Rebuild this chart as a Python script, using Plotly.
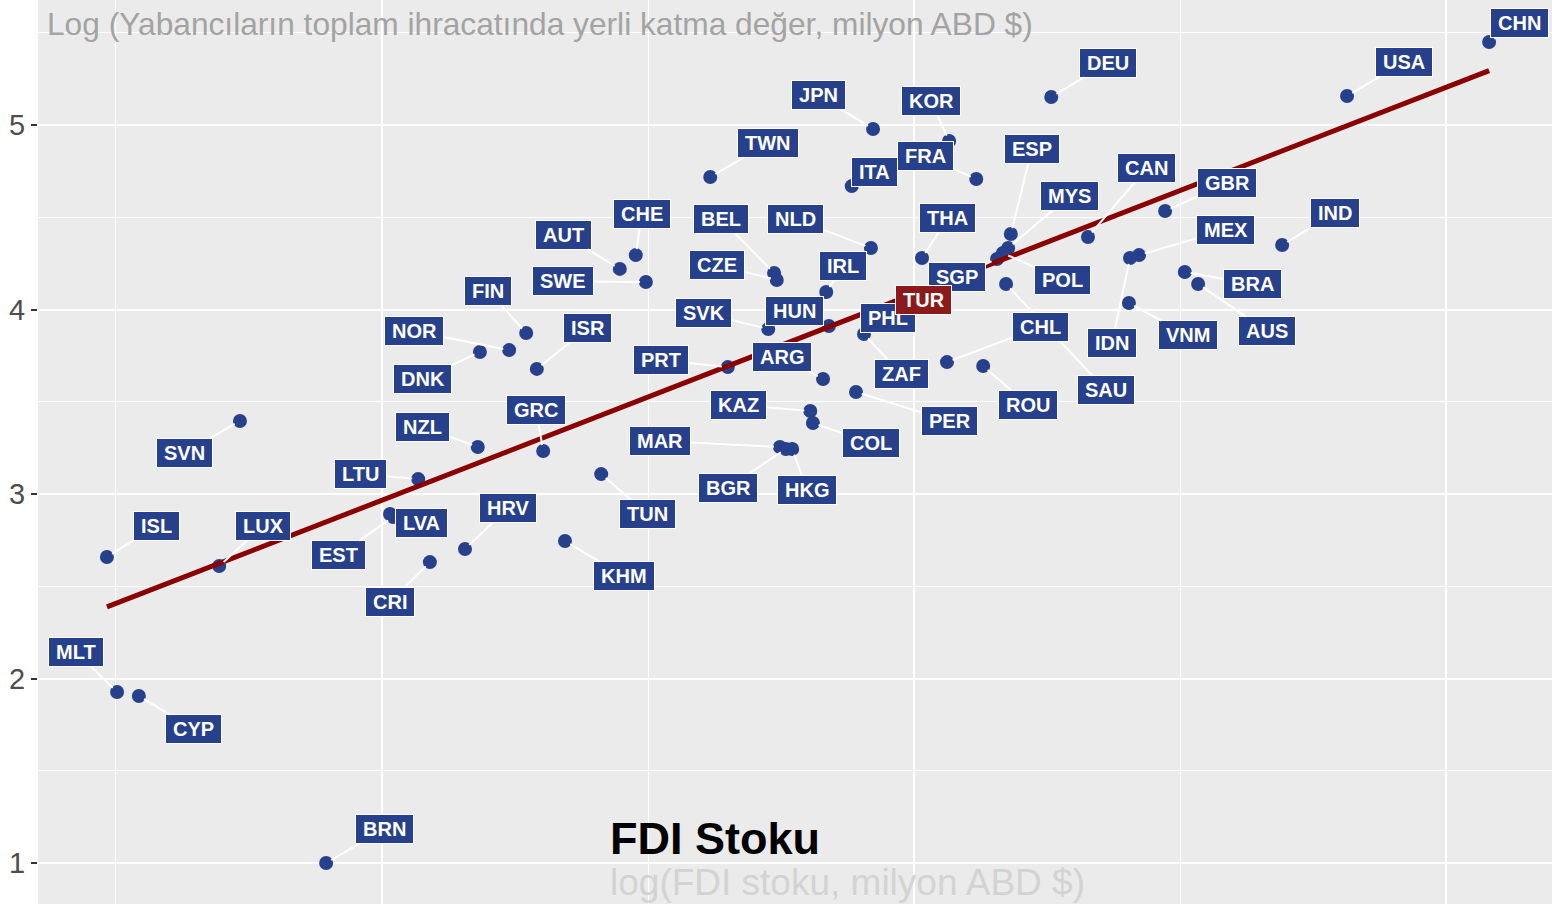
import numpy as np
import plotly.graph_objects as go

# log10 FDI stock (million USD) and log10 domestic value added in foreign exports
countries = ["CHN", "USA", "DEU", "JPN", "KOR", "TWN", "ITA", "FRA", "ESP", "CAN",
             "MYS", "POL", "SGP", "SAU", "CHL", "ROU", "GBR", "MEX", "IDN", "VNM",
             "BRA", "AUS", "IND", "THA", "PHL", "ZAF", "HUN", "SVK", "IRL",
             "NLD", "BEL", "CZE", "CHE", "AUT", "SWE", "FIN", "NOR", "DNK", "ISR",
             "PRT", "ARG", "PER", "KAZ", "COL", "MAR", "BGR", "HKG", "GRC", "TUN",
             "KHM", "HRV", "CRI", "LVA", "EST", "LTU", "NZL", "SVN", "ISL", "LUX",
             "MLT", "CYP", "BRN", "TUR"]
fdi_stock = [6.081, 5.814, 5.258, 4.923, 5.066, 4.617, 4.883, 5.117, 5.182, 5.327,
             5.177, 5.167, 5.156, 5.173, 5.062, 5.130, 5.472, 5.423, 5.406, 5.404,
             5.509, 5.534, 5.692, 5.015, 4.932, 4.906, 4.840, 4.726, 4.835,
             4.919, 4.737, 4.742, 4.477, 4.447, 4.496, 4.271, 4.239, 4.184, 4.291,
             4.650, 4.829, 4.891, 4.805, 4.810, 4.748, 4.759, 4.771, 4.303, 4.412,
             4.344, 4.156, 4.090, 4.015, 4.021, 4.068, 4.180, 3.733, 3.483, 3.694,
             3.502, 3.543, 3.895, 4.961]
dva_exports = [5.450, 5.157, 5.152, 4.978, 4.913, 4.718, 4.669, 4.707, 4.409, 4.393,
               4.333, 4.306, 4.274, 4.138, 3.715, 3.694, 4.534, 4.295, 4.279, 4.035,
               4.203, 4.138, 4.350, 4.279, 3.916, 3.867, 3.911, 3.894, 4.095,
               4.333, 4.198, 4.160, 4.295, 4.220, 4.149, 3.873, 3.780, 3.770, 3.678,
               3.688, 3.623, 3.553, 3.450, 3.385, 3.255, 3.244, 3.244, 3.233, 3.108,
               2.745, 2.702, 2.631, 2.892, 2.875, 3.081, 3.255, 3.396, 2.659, 2.610,
               1.927, 1.905, 1.000, 3.954]
highlight = "TUR"

# label offsets in pixels (repelled label positions)
label_offsets = {
    "CHN": (30, -19), "USA": (57, -34), "DEU": (57, -34), "JPN": (-55, -34),
    "KOR": (-18, -40), "TWN": (58, -34), "ITA": (23, -14), "FRA": (-51, -23),
    "ESP": (21, -85), "CAN": (59, -69), "MYS": (61, -52), "POL": (60, 27),
    "SGP": (-40, 18), "SAU": (100, 106), "CHL": (93, -35), "ROU": (45, 39),
    "GBR": (62, -28), "MEX": (86, -25), "IDN": (-18, 85), "VNM": (59, 32),
    "BRA": (68, 12), "AUS": (69, 47), "IND": (53, -32), "THA": (26, -40),
    "TUR": (30, -18), "PHL": (10, -7), "ZAF": (37, 40), "HUN": (-34, -15),
    "SVK": (-65, -16), "IRL": (17, -26), "NLD": (-75, -29), "BEL": (-53, -54),
    "CZE": (-60, -15), "CHE": (6, -41), "AUT": (-56, -34), "SWE": (-83, -1),
    "FIN": (-38, -42), "NOR": (-95, -19), "DNK": (-57, 27), "ISR": (51, -41),
    "PRT": (-67, -7), "ARG": (-41, -22), "PER": (93, 29), "KAZ": (-72, -6),
    "COL": (58, 20), "MAR": (-120, -6), "BGR": (-58, 39), "HKG": (15, 41),
    "GRC": (-7, -41), "TUN": (46, 40), "KHM": (59, 35), "HRV": (43, -41),
    "CRI": (-40, 40), "LVA": (32, 9), "EST": (-55, 38), "LTU": (-58, -5),
    "NZL": (-55, -20), "SVN": (-55, 32), "ISL": (50, -31), "LUX": (44, -40),
    "MLT": (-41, -40), "CYP": (55, 33), "BRN": (58, -34),
}

BLUE = "#27408B"
RED = "#8B1A1A"

x = np.array(fdi_stock)
y = np.array(dva_exports)
slope, intercept = np.polyfit(x, y, 1)
fit_x = np.array([x.min(), x.max()])
fit_y = intercept + slope * fit_x

fig = go.Figure()

fig.add_trace(
    go.Scatter(
        x=fdi_stock,
        y=dva_exports,
        mode="markers",
        marker=dict(color=BLUE, size=14),
        text=countries,
        hoverinfo="text+x+y",
        showlegend=False
    )
)

fig.add_trace(
    go.Scatter(
        x=fit_x,
        y=fit_y,
        mode="lines",
        line=dict(color="#8B0000", width=5),
        hoverinfo="skip",
        showlegend=False
    )
)

# highlighted country is last in the lists, so its label sits on top
for c, xv, yv in zip(countries, fdi_stock, dva_exports):
    ax, ay = label_offsets[c]
    fig.add_annotation(
        x=xv, y=yv, xref="x", yref="y",
        text="\u2009" + c + "\u2009",
        showarrow=True, arrowhead=0, arrowwidth=2, arrowcolor="white",
        standoff=6, ax=ax, ay=ay,
        font=dict(family="Liberation Sans", size=20, color="white", weight="bold"),
        bgcolor=RED if c == highlight else BLUE,
        bordercolor="white", borderwidth=1, borderpad=3
    )

fig.add_annotation(
    text="Log (Yabancıların toplam ihracatında yerli katma değer, milyon ABD $)",
    xref="paper", yref="paper", x=0.0046, y=1, xanchor="left", yanchor="top",
    yshift=-4, showarrow=False,
    font=dict(family="Liberation Sans", size=31.7, color="#A3A3A3")
)
fig.add_annotation(
    text="FDI Stoku",
    xref="paper", yref="paper", x=0.3765, y=0.073, xanchor="left", yanchor="middle",
    showarrow=False,
    font=dict(family="Liberation Sans", size=45, color="black", weight="bold")
)
fig.add_annotation(
    text="log(FDI stoku, milyon ABD $)",
    xref="paper", yref="paper", x=0.3765, y=0.024, xanchor="left", yanchor="middle",
    showarrow=False,
    font=dict(family="Liberation Sans", size=37, color="#D3D3D3")
)

fig.update_layout(
    width=1552,
    height=904,
    margin=dict(l=38, r=0, t=0, b=0),
    paper_bgcolor="white",
    plot_bgcolor="#EBEBEB",
    font=dict(family="Liberation Sans"),
    xaxis=dict(
        range=[3.3534, 6.1992],
        tickvals=[4, 5, 6],
        showticklabels=False,
        ticks="",
        showgrid=True, gridcolor="white", gridwidth=2,
        zeroline=False,
        minor=dict(tickvals=[3.5, 4.5, 5.5], showgrid=True, gridcolor="white", gridwidth=1)
    ),
    yaxis=dict(
        range=[0.778, 5.6775],
        tickvals=[1, 2, 3, 4, 5],
        ticks="outside", ticklen=6, tickwidth=2, tickcolor="#333333",
        tickfont=dict(size=29, color="#4D4D4D"),
        showgrid=True, gridcolor="white", gridwidth=2,
        zeroline=False,
        minor=dict(tickvals=[1.5, 2.5, 3.5, 4.5, 5.5], showgrid=True, gridcolor="white", gridwidth=1)
    )
)

fig.write_html(
    "out.html",
    config={"displayModeBar": False},
    post_script="document.body.style.margin='0';"
)
